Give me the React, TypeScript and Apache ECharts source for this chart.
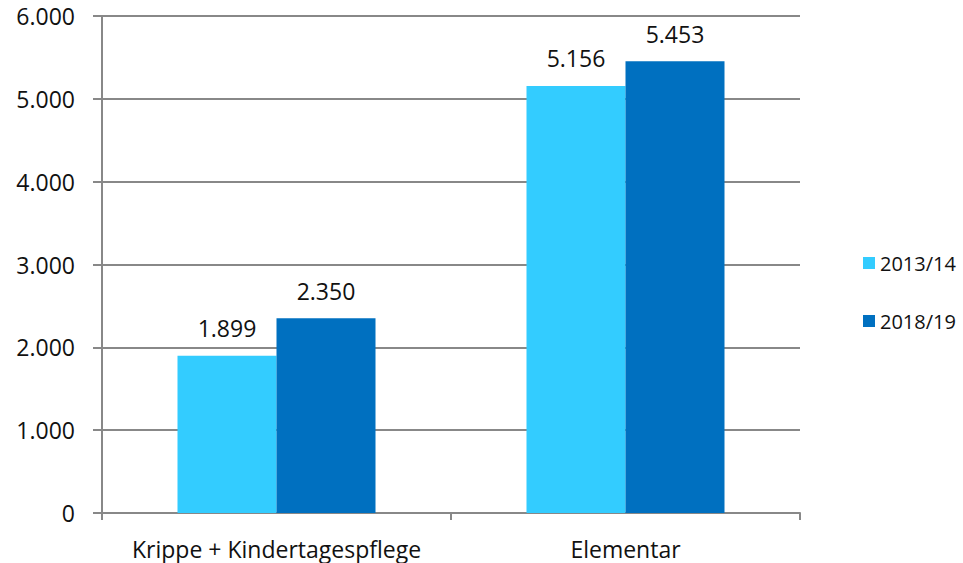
import React, { useEffect, useRef } from "react";
import * as echarts from "echarts";

const categories = ["Krippe + Kindertagespflege", "Elementar"];
const seriesNames = ["2013/14", "2018/19"];
const values2013 = [1899, 5156];
const values2018 = [2350, 5453];
const colors = ["#33CCFF", "#0070C0"];

const fmt = (v: number) => String(v).replace(/\B(?=(\d{3})+(?!\d))/g, ".");

export default function App() {
  const ref = useRef<HTMLDivElement>(null);
  useEffect(() => {
    const chart = echarts.init(ref.current!, null, { renderer: "svg" });
    const font = "'Open Sans', 'Noto Sans', sans-serif";
    const labelCfg = {
      show: true,
      position: "top",
      distance: 16,
      fontSize: 23,
      color: "#111",
      formatter: (p: any) => fmt(p.value),
      fontFamily: font,
    };
    chart.setOption({
      animation: false,
      textStyle: { fontFamily: font },
      grid: { left: 102, right: 163, top: 16, bottom: 50, containLabel: false },
      legend: {
        orient: "vertical",
        left: 858,
        top: 248,
        itemWidth: 12,
        itemHeight: 12,
        itemGap: 38,
        icon: "rect",
        textStyle: { fontSize: 20, color: "#111", fontFamily: font },
        data: seriesNames,
      },
      xAxis: {
        type: "category",
        data: categories,
        axisLine: { lineStyle: { color: "#888", width: 2 } },
        axisTick: { show: true, length: 7, lineStyle: { color: "#888", width: 2 } },
        axisLabel: { interval: 0, hideOverlap: false, fontSize: 23, color: "#111", margin: 24, fontFamily: font },
      },
      yAxis: {
        type: "value",
        min: 0,
        max: 6000,
        interval: 1000,
        axisLine: { show: true, lineStyle: { color: "#888", width: 2 } },
        axisTick: { show: true, length: 9, lineStyle: { color: "#888", width: 2 } },
        splitLine: { lineStyle: { color: "#888", width: 2 } },
        axisLabel: { fontSize: 23, color: "#111", margin: 27, formatter: (v: number) => fmt(v), fontFamily: font },
      },
      series: [
        {
          name: seriesNames[0],
          type: "bar",
          data: values2013,
          barWidth: 99,
          barGap: "0%",
          itemStyle: { color: colors[0] },
          label: labelCfg,
        },
        {
          name: seriesNames[1],
          type: "bar",
          data: values2018,
          barWidth: 99,
          barGap: "0%",
          itemStyle: { color: colors[1] },
          label: labelCfg,
        },
      ],
    });
    return () => chart.dispose();
  }, []);
  return <div ref={ref} style={{ width: 963, height: 563, position: "absolute", left: 0, top: 0 }} />;
}
